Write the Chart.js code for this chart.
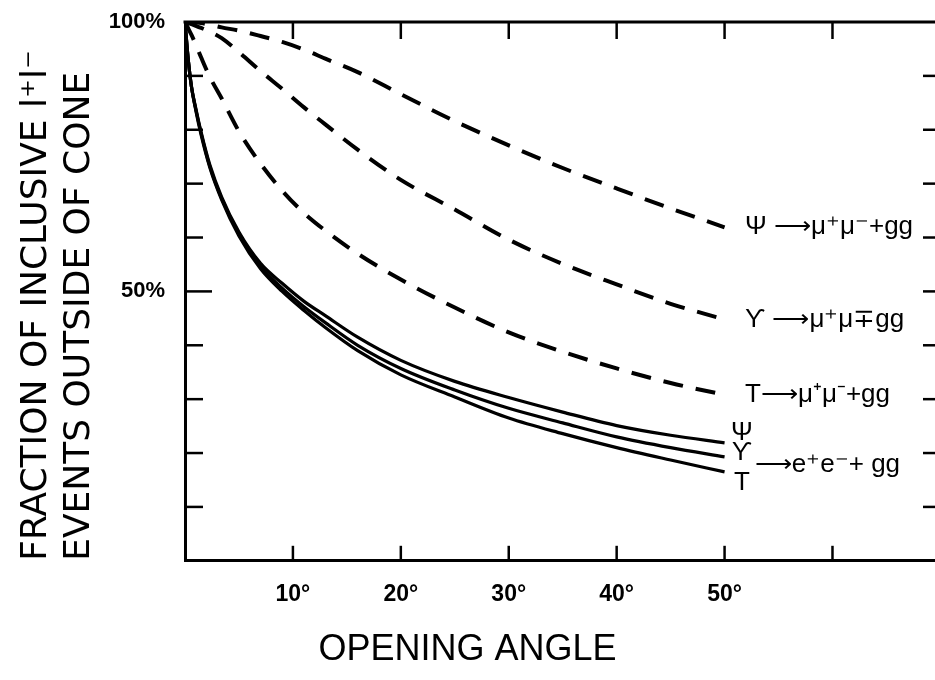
<!DOCTYPE html>
<html>
<head>
<meta charset="utf-8">
<script src="https://cdn.jsdelivr.net/npm/chart.js@4.4.1/dist/chart.umd.min.js"></script>
<style>
  html, body { margin: 0; padding: 0; background: #fff; overflow: hidden; }
  #wrap { width: 935px; height: 680px; }
</style>
</head>
<body>
<div id="wrap"><canvas id="cone-chart"></canvas></div>
<script>
// opening angle in degrees (common grid for every curve)
var angles = [0, 0.3, 0.6, 1, 1.5, 2.3, 3.4, 5, 7, 9, 11, 13, 16, 20, 25, 30, 35, 40, 45, 50];

// dashed curves, mu+ mu- + gg (percent outside the cone)
var psiMu     = [100, 100, 99.95, 99.9, 99.8, 99.5, 99.0, 98.4, 97.4, 96.3, 94.9, 93.2, 90.7, 86.6, 81.6, 77.1, 72.9, 69.1, 65.4, 61.9];
var upsilonMu = [100, 99.8, 99.6, 99.3, 98.9, 98.2, 97, 94.4, 90.9, 87.6, 84.2, 81, 76.3, 70.7, 65.2, 59.6, 55.1, 51.3, 47.7, 44.8];
var topMu     = [100, 98.8, 97.6, 95.8, 93.4, 89.8, 85.8, 79.7, 73.7, 68.7, 64.6, 61.3, 57, 52.2, 47, 42.4, 38.8, 35.7, 33, 30.8];

// solid curves, e+ e- + gg
var psiE      = [100, 93, 88, 84, 79.5, 73.5, 67.5, 61, 55.2, 51.5, 48.2, 45.5, 41.5, 37.2, 33.3, 30.3, 27.6, 25.1, 23.3, 21.9];
var upsilonE  = [100, 93, 88, 83.8, 79.3, 73.2, 67.2, 60.6, 54.6, 50.6, 47.2, 44.2, 40, 35.7, 31.7, 28.3, 25.6, 23, 21, 19.3];
var topE      = [100, 93, 88, 83.6, 79, 73, 67, 60.3, 54.2, 50, 46.5, 43.3, 39, 34.5, 30.4, 26.5, 23.6, 21, 18.7, 16.5];

var xTickValues = [10, 20, 30, 40, 50, 60];
var xTickLabels = ['10°', '20°', '30°', '40°', '50°'];
var yTickValues = [10, 20, 30, 40, 50, 60, 70, 80, 90];
var yTickLabels = { 50: '50%', 100: '100%' };

var curveLabels = ['Ψ ⟶μ⁺μ⁻+gg', 'ϒ ⟶μ⁺μ∓gg', 'T⟶μ⁺μ⁻+gg'];
var eeStack = ['Ψ', 'ϒ', 'T'];
var eeLabel = '⟶e⁺e⁻+ gg';

var FONT = "'Liberation Sans', Arial, sans-serif";
var WIDE = "'DejaVu Sans', sans-serif";

function pts(vals) {
  return angles.map(function(a, i) { return { x: a, y: vals[i] }; });
}

function curve(vals, dashed) {
  return {
    data: pts(vals),
    borderColor: '#000',
    borderWidth: dashed ? 4 : 3.2,
    borderDash: dashed ? [20, 13] : [],
    pointRadius: 0,
    fill: false,
    cubicInterpolationMode: 'monotone'
  };
}

// frame, inward ticks and the curve labels
var framePlugin = {
  id: 'frame',
  afterDraw: function(chart) {
    var ctx = chart.ctx;
    var a = chart.chartArea;
    var x = chart.scales.x;
    var y = chart.scales.y;
    function seg(x1, y1, x2, y2) {
      ctx.beginPath(); ctx.moveTo(x1, y1); ctx.lineTo(x2, y2); ctx.stroke();
    }
    ctx.save();
    ctx.strokeStyle = '#000';
    ctx.lineWidth = 3;
    seg(a.left - 1.5, a.top, a.right, a.top);
    ctx.lineWidth = 2.5;
    xTickValues.forEach(function(v) {
      var px = x.getPixelForValue(v);
      seg(px, a.top, px, a.top + 17);
      seg(px, a.bottom, px, a.bottom - 15);
    });
    yTickValues.forEach(function(v) {
      var py = y.getPixelForValue(v);
      seg(a.left, py, a.left + (v === 50 ? 27 : 18), py);
      seg(a.right, py, a.right - 12, py);
    });

    ctx.fillStyle = '#000';
    ctx.font = '26px ' + FONT;
    ctx.textBaseline = 'middle';
    ctx.textAlign = 'left';
    var ends = [psiMu, upsilonMu, topMu];
    curveLabels.forEach(function(t, i) {
      var v = ends[i][ends[i].length - 1];
      ctx.fillText(t, x.getPixelForValue(51.9), y.getPixelForValue(v));
    });
    var mid = y.getPixelForValue(upsilonE[upsilonE.length - 1]);
    var sx = x.getPixelForValue(51.6);
    ctx.textAlign = 'center';
    ctx.fillText(eeStack[0], sx, mid - 24);
    ctx.fillText(eeStack[1], sx, mid - 4);
    ctx.fillText(eeStack[2], sx, mid + 26);
    ctx.textAlign = 'left';
    ctx.fillText(eeLabel, sx + 13, mid + 8);
    ctx.restore();
  }
};

var chart = new Chart(document.getElementById('cone-chart'), {
  type: 'line',
  data: {
    datasets: [
      curve(psiMu, true),
      curve(upsilonMu, true),
      curve(topMu, true),
      curve(psiE, false),
      curve(upsilonE, false),
      curve(topE, false)
    ]
  },
  options: {
    responsive: true,
    maintainAspectRatio: false,
    animation: false,
    layout: { padding: { left: 0, right: 0, top: 22, bottom: 0 } },
    plugins: {
      legend: { display: false },
      tooltip: { enabled: false },
      title: {
        display: true,
        position: 'bottom',
        text: 'OPENING ANGLE',
        color: '#000',
        font: { family: FONT, size: 36, weight: 'normal' },
        padding: { top: 0, bottom: 8 }
      }
    },
    scales: {
      x: {
        type: 'linear',
        min: 0,
        max: 69.5,
        afterFit: function(s) { s.height = 68; s.paddingLeft = 0; s.paddingRight = 0; },
        grid: { display: false, drawTicks: false },
        border: { display: true, color: '#000', width: 3 },
        ticks: {
          stepSize: 10,
          padding: 20,
          color: '#000',
          maxRotation: 0,
          autoSkip: false,
          font: { family: FONT, size: 23, weight: 'bold' },
          callback: function(v) {
            var i = xTickValues.indexOf(v);
            return i >= 0 && i < xTickLabels.length ? xTickLabels[i] : '';
          }
        }
      },
      y: {
        min: 0,
        max: 100,
        afterFit: function(s) { s.width = 185; s.paddingTop = 0; s.paddingBottom = 0; },
        grid: { display: false, drawTicks: false },
        border: { display: true, color: '#000', width: 3 },
        ticks: {
          stepSize: 10,
          padding: 20,
          color: '#000',
          font: { family: FONT, size: 22, weight: 'bold' },
          callback: function(v) { return yTickLabels[v] || ''; }
        },
        title: {
          display: true,
          align: 'start',
          text: ['FRACTION OF INCLUSIVE l⁺l⁻', 'EVENTS OUTSIDE OF CONE'],
          color: '#000',
          font: { family: WIDE, size: 36, weight: 'normal', lineHeight: 1.17 },
          padding: { top: 16, bottom: 0 }
        }
      }
    }
  },
  plugins: [framePlugin]
});
</script>
</body>
</html>
